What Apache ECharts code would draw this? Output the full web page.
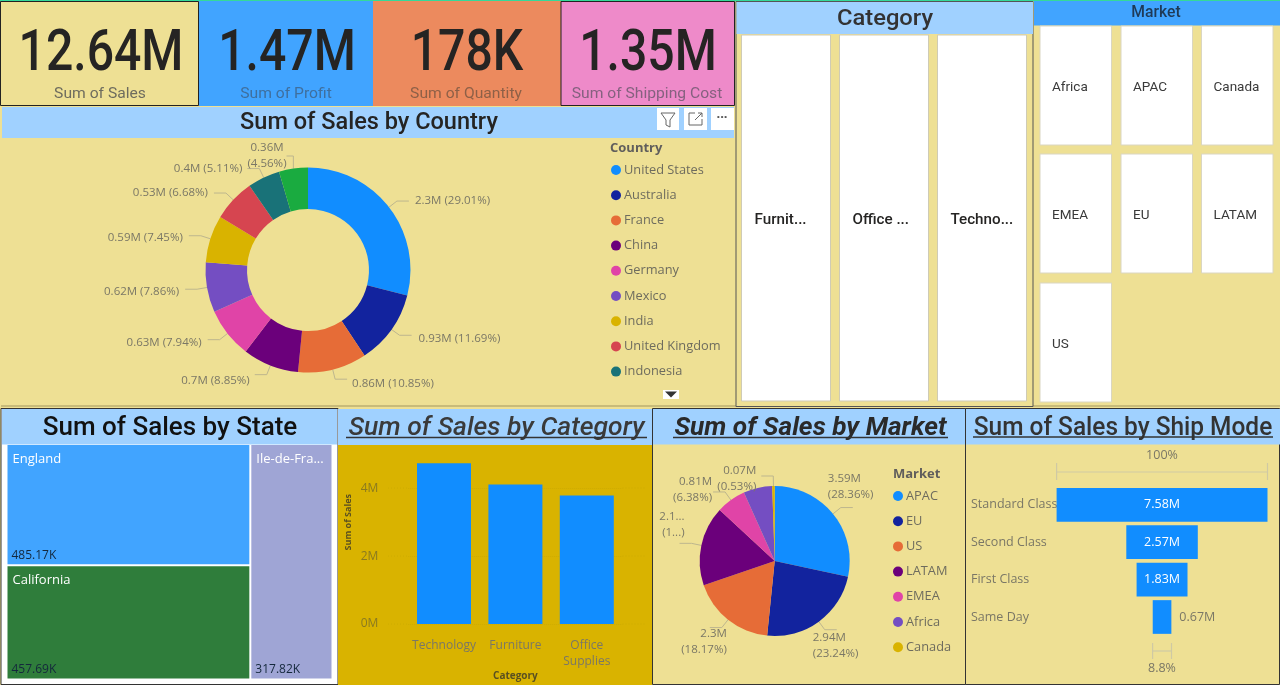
<!DOCTYPE html>
<html><head><meta charset="utf-8">
<style>html,body{margin:0;padding:0;background:#EEE094}#c{width:1280px;height:685px}</style>
<script src="https://cdn.jsdelivr.net/npm/echarts@6/dist/echarts.min.js"></script>
</head><body><div id="c"></div>
<script>
const palette = ['#118DFF','#12239E','#E66C37','#6B007B','#E044A7','#744EC2','#D9B300','#D64550','#197278','#1AAB40'];
const kpiValues = ['12.64M','1.47M','178K','1.35M'];
const kpiLabels = ['Sum of Sales','Sum of Profit','Sum of Quantity','Sum of Shipping Cost'];
const countryNames = ['United States','Australia','France','China','Germany','Mexico','India','United Kingdom','Indonesia','Brazil'];
const countrySales = [2.2961,0.9253,0.8588,0.7005,0.6284,0.6221,0.5897,0.5287,0.4045,0.3609];
const stateNames = ['England','California','Ile-de-Fra...'];
const stateSales = [485.17,457.69,317.82];
const categoryNames = ['Technology','Furniture','Office\nSupplies'];
const categorySales = [4.74,4.11,3.79];
const marketNames = ['APAC','EU','US','LATAM','EMEA','Africa','Canada'];
const marketSales = [3.586,2.938,2.297,2.165,0.806,0.784,0.067];
const shipNames = ['Standard Class','Second Class','First Class','Same Day'];
const shipSales = [7.58,2.57,1.83,0.67];
const categorySlicer = ['Furnit...','Office ...','Techno...'];
const marketSlicer = ['Africa','APAC','Canada','EMEA','EU','LATAM','US'];

const KHAKI='#EEE094', BLUE='#41A4FF', LIGHT='#A0D1FF', LBL='#7A7766';
const head='Roboto', body='"Open Sans"';
const g=[];
function R(x,y,w,h,fill,stroke,lw,z){g.push({type:'rect',z:z==null?-10:z,shape:{x,y,width:w,height:h},style:{fill:fill||'transparent',stroke:stroke||null,lineWidth:lw||1},silent:true});}
function T(x,y,s,size,color,o){o=o||{};g.push({type:'text',z:5,x,y,scaleX:o.sx||1,silent:true,style:{x:0,y:0,text:s,fill:color,align:o.align||'center',verticalAlign:'middle',font:(o.style||'')+' '+(o.weight||'normal')+' '+size+'px '+(o.font||head)}});}
function L(pts,color,lw,dash){g.push({type:'polyline',z:5,silent:true,shape:{points:pts},style:{stroke:color,lineWidth:lw||1,fill:null,lineDash:dash||null}});}

// page strips and KPI cards
R(0,0,1280,685,KHAKI);
R(0,0,1280,1.5,'#35D99A');
R(0.5,1.5,198,104,KHAKI,'#222');
R(199,1,174,105,BLUE);
R(373,1,188,105,'#EC8A5E');
R(561,1.5,173.5,104,'#EE8AC9','#222');
const kpiX=[101,287,467,648], kpiCol=['#6E6C5E','#3F6F9E','#8E6047','#85617F'];
kpiValues.forEach((v,i)=>{T(kpiX[i],55,v,58,'#252423',{sx:.83,weight:'500'});T(kpiX[i]-1,94.5,kpiLabels[i],15.5,kpiCol[i],{sx:1.01});});

// country panel
R(2,107,732,31,LIGHT);
T(369,123,'Sum of Sales by Country',24,'#252423',{sx:.98,weight:'500'});
R(657,108,22,22,'#fff');R(684,108,23,22,'#fff');R(711,108,23,22,'#fff');
L([[661,113],[675,113],[670,120],[670,127],[666,125],[666,120],[661,113]],'#666');
L([[695,113],[689,113],[689,125],[702,125],[702,119]],'#666');L([[695,120],[702,113]],'#666');L([[698,113],[702,113],[702,117]],'#666');
T(722,117,'···',13,'#555',{font:body,weight:'bold'});
T(610,148,'Country',13,'#605E5C',{align:'left',font:body,weight:'bold'});
R(663,390,16,9,'#fff');
g.push({type:'polygon',z:5,silent:true,shape:{points:[[665,391.5],[677,391.5],[671,397.5]]},style:{fill:'#333'}});
R(1,405,1279,2,'#C8BB7A');

// category slicer
R(736,1.5,297,405,KHAKI,'#555');
R(736.5,2,296.5,32,LIGHT);
T(885,19,'Category',22,'#333',{sx:1.08,weight:'500'});
[741.5,839.5,937.5].forEach((x,i)=>{R(x,35,89,366,'#fff','#CFCBB5');T(x+13,220,categorySlicer[i],15.5,'#252423',{align:'left',weight:'500',sx:.98});});

// market slicer
R(1034,1,246,24.5,BLUE);
T(1156,12.5,'Market',16,'#1F3A57',{weight:'500',sx:.98});
const mx=[1040,1121,1201.5], my=[26,154,283];
marketSlicer.forEach((s,i)=>{const x=mx[i%3],y=my[Math.floor(i/3)];R(x,y,71.5,119,'#fff','#DAD6C2');T(x+12,y+61.5,s,13.5,'#3A3A3A',{align:'left'});});

// bottom panels
R(1,408.5,337,276,'#fff','#333');
R(2,409,335,35.5,LIGHT);
T(170,428,'Sum of Sales by State',26,'#111',{sx:1,weight:'500'});
R(338,409,314,36,LIGHT);
R(338,445,314,240,'#D9B300');
T(496.5,428,'Sum of Sales by Category',26,'#3A3A3A',{style:'italic',sx:1.02,weight:'500'});
L([[346,437.5],[647,437.5]],'#333',1.5);
R(652.5,408.5,313,276,KHAKI,'#333');
R(653,409,312.5,35.5,LIGHT);
T(810.5,428,'Sum of Sales by Market',26,'#2A2A2A',{style:'italic',weight:'bold',sx:1.01});
L([[673,437.5],[948,437.5]],'#333',1.5);
R(965.5,408.5,314,276,KHAKI,'#333');
R(966,409,314,35.5,LIGHT);
T(1123,428,'Sum of Sales by Ship Mode',26,'#333',{sx:.94,weight:'500'});
L([[973,437],[1273,437]],'#333',1.5);
T(893,474,'Market',13,'#605E5C',{align:'left',font:body,weight:'bold'});
// funnel brackets
T(1162,455,'100%',12.5,LBL,{font:body});
T(1162,668,'8.8%',12.5,LBL,{font:body});
const bc='#CFC9A4';
L([[1056.6,472],[1267.5,472]],bc,1.2);L([[1056.6,463],[1056.6,480]],bc,1.2);L([[1267.5,463],[1267.5,480]],bc,1.2);
L([[1152.6,651],[1171.5,651]],bc,1.2);L([[1152.6,643],[1152.6,659]],bc,1.2);L([[1171.5,643],[1171.5,659]],bc,1.2);
// gridline run-outs either side of the bar plot
const gridCol='#CEAC00';
[488,556,624].forEach(y=>{L([[388,y],[408,y]],gridCol,1,[1,2]);L([[622.5,y],[646,y]],gridCol,1,[1,2]);});

const short=v=>(+v.toFixed(2))+'M';
const chart=echarts.init(document.getElementById('c'),null,{renderer:'canvas'});
const shipMax=Math.max(...shipSales);
const lblStyle={color:LBL,fontFamily:body,fontSize:11.5,lineHeight:16};
const leg=(data,left,top)=>({data,left,top,orient:'vertical',icon:'circle',itemWidth:10,itemHeight:10,itemGap:11.2,selectedMode:false,padding:0,textStyle:{color:'#6E6C5E',fontFamily:body,fontSize:12.8,padding:[0,0,0,-2],lineHeight:14}});
const cShift=[[1,0],[2,3],[0,5],[0,6],[-1,3],[-1,3],[-1,2],[-1,0],[0,0],[0,0]];
const mShift=[[-30,-21],[-29,16],[22,14],[10,-19],[4,-2],[0,0],[0,3]];
chart.setOption({
  animation:false,
  color:palette,
  graphic:{elements:g},
  legend:[leg(countryNames.slice(0,9),611,163),leg(marketNames,893,489)],
  grid:[
    {left:408.3,width:214.2,top:420.5,height:203.5},
    {left:1056.6,width:210.9,top:486.1,height:149.6}
  ],
  xAxis:[
    {gridIndex:0,type:'category',data:categoryNames,axisLine:{show:false},axisTick:{show:false},
     axisLabel:{interval:0,color:LBL,fontFamily:body,fontSize:12,margin:14,lineHeight:16},
     name:'Category',nameLocation:'middle',nameGap:41,nameTextStyle:{color:'#5A5020',fontFamily:body,fontWeight:'bold',fontSize:10}},
    {gridIndex:1,type:'value',min:0,max:shipMax,show:false}
  ],
  yAxis:[
    {gridIndex:0,type:'value',min:0,max:6,interval:2,
     axisLabel:{color:'#8A7A20',fontFamily:body,fontSize:12,margin:30,showMaxLabel:false,formatter:v=>v+'M',padding:[5,0,0,0]},
     axisLine:{show:false},axisTick:{show:false},
     splitLine:{showMaxLine:false,lineStyle:{color:gridCol,type:'dotted'}},
     name:'Sum of Sales',nameLocation:'middle',nameGap:55,nameRotate:90,nameTextStyle:{color:'#5A5020',fontFamily:body,fontWeight:'bold',fontSize:9}},
    {gridIndex:1,type:'category',inverse:true,data:shipNames,axisLine:{show:false},axisTick:{show:false},
     axisLabel:{color:LBL,fontFamily:body,fontSize:12.5,align:'left',margin:85.6}}
  ],
  series:[
    {type:'pie',name:'Country',center:[308,270],radius:[61,102.5],startAngle:90,percentPrecision:2,avoidLabelOverlap:false,
     data:countryNames.map((n,i)=>({name:n,value:countrySales[i]})),
     label:{...lblStyle,formatter:p=>p.dataIndex===9?`${short(p.value)}\n(${p.percent.toFixed(2)}%)`:`${short(p.value)} (${p.percent.toFixed(2)}%)`},
     labelLine:{length:10,length2:12,lineStyle:{color:'#BDB68E',width:1}},
     labelLayout:p=>p.dataIndex===9?{x:267,y:156,align:'center',verticalAlign:'middle'}:{dx:cShift[p.dataIndex][0],dy:cShift[p.dataIndex][1]}},
    {type:'pie',name:'Market',center:[774.7,561],radius:[0,75],startAngle:90,percentPrecision:2,avoidLabelOverlap:false,
     data:marketNames.map((n,i)=>({name:n,value:marketSales[i],label:{show:n!=='Africa'},labelLine:{show:n!=='Africa'}})),
     label:{...lblStyle,formatter:p=>p.name==='LATAM'?'2.1...\n(1...)':`${short(p.value)}\n(${p.percent.toFixed(2)}%)`},
     labelLine:{length:10,length2:12,lineStyle:{color:'#BDB68E',width:1}},
     labelLayout:p=>({dx:mShift[p.dataIndex][0],dy:mShift[p.dataIndex][1]})},
    {type:'bar',xAxisIndex:0,yAxisIndex:0,barWidth:54,data:categorySales,itemStyle:{color:palette[0]}},
    {type:'bar',xAxisIndex:1,yAxisIndex:1,stack:'f',barWidth:33.7,silent:true,itemStyle:{color:'transparent'},data:shipSales.map(v=>(shipMax-v)/2)},
    {type:'bar',xAxisIndex:1,yAxisIndex:1,stack:'f',barWidth:33.7,itemStyle:{color:palette[0]},
     data:shipSales.map((v,i)=>({value:v,label:i===3?{position:'right',color:LBL,distance:8}:{}})),
     label:{show:true,position:'inside',color:'#fff',fontFamily:body,fontSize:12.5,formatter:p=>p.value+'M'}},
    {type:'treemap',left:7.5,top:445,width:324,height:233.5,breadcrumb:{show:false},nodeClick:false,roam:false,
     itemStyle:{gapWidth:2,borderWidth:0},levels:[{itemStyle:{gapWidth:2,borderWidth:0}}],
     data:stateNames.map((n,i)=>({name:n,value:stateSales[i],itemStyle:{color:['#41A4FF','#2F7D3B','#9FA5D5'][i]}})),
     label:{show:true,position:'insideTopLeft',distance:5,color:'#fff',fontFamily:body,fontSize:13,formatter:'{b}',padding:[3,0,0,0]}},
    {type:'treemap',left:7.5,top:445,width:324,height:233.5,breadcrumb:{show:false},nodeClick:false,roam:false,silent:true,
     levels:[{itemStyle:{gapWidth:2,borderWidth:0}}],
     data:stateNames.map((n,i)=>({name:n,value:stateSales[i],itemStyle:{color:'transparent'}})),
     label:{show:true,position:'insideBottomLeft',color:'#14283C',fontFamily:body,fontSize:12,formatter:p=>p.value+'K',padding:[0,0,3,4]}}
  ]
});
</script></body></html>
